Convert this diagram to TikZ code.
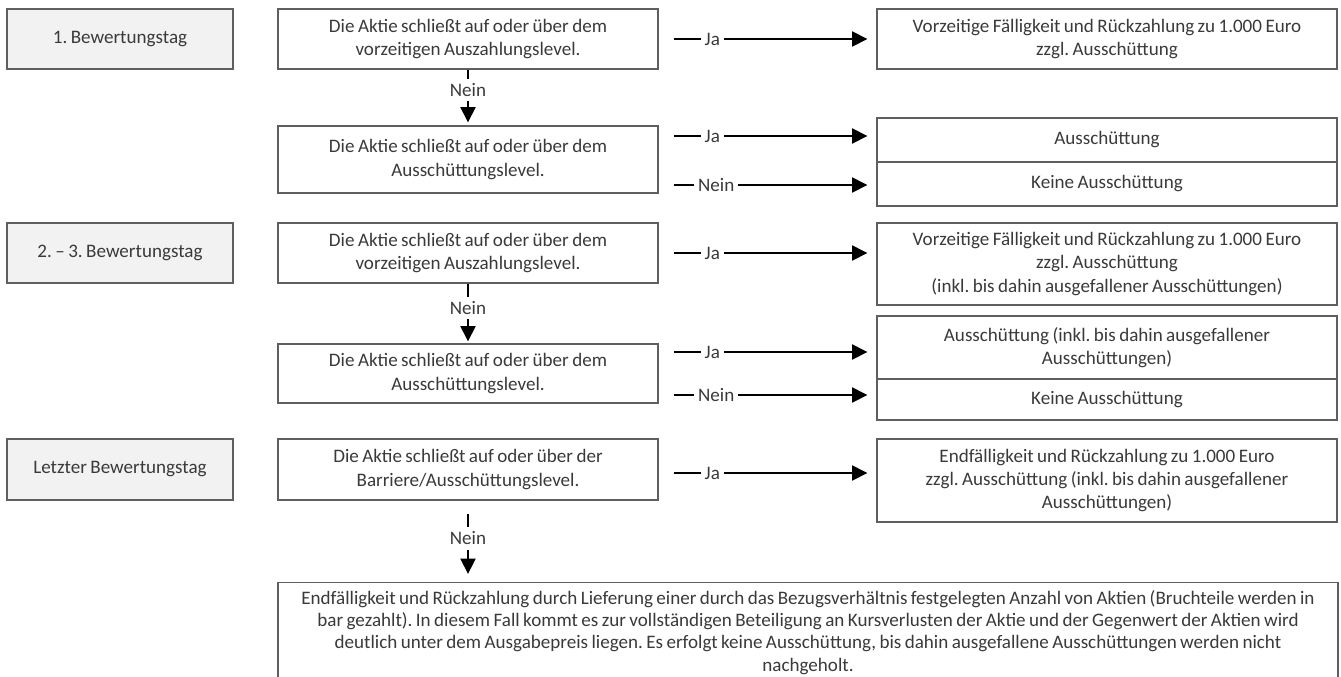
\documentclass[tikz,border=0pt]{standalone}
\usepackage{fontspec}
\setmainfont{Carlito}[WordSpace=0.8]
\frenchspacing
\usetikzlibrary{arrows.meta,calc}
\definecolor{boxc}{HTML}{5F5F5F}
\definecolor{txtc}{HTML}{3A3A3A}
\definecolor{dayfill}{HTML}{F2F2F2}
\tikzset{
  box/.style={draw=boxc, line width=0.8pt, text=txtc, align=center, inner sep=0pt,
    font=\fontsize{14.3}{17.3}\selectfont},
  day/.style={box, fill=dayfill, minimum width=169.5pt, minimum height=45pt},
  dec/.style={box, fill=white, minimum width=285pt},
  res/.style={box, fill=white, minimum width=345pt},
  arr/.style={line width=2.2pt, -{Triangle[length=11.5pt,width=11pt]}},
  lab/.style={fill=white, text=txtc, font=\fontsize{14.3}{16}\selectfont, inner xsep=3pt, inner ysep=3.5pt}
}
\begin{document}
\begin{tikzpicture}[x=0.75pt,y=-0.75pt]
\useasboundingbox (0,0) rectangle (1341,676);
\clip (0,0) rectangle (1341,676);
% day boxes
\node[day] (L1) at (120,39) {1. Bewertungstag};
\node[day] (L2) at (120,253) {2. – 3. Bewertungstag};
\node[day, minimum height=45.75pt] (L3) at (120,469.5) {Letzter Bewertungstag};
% decision boxes
\node[dec, minimum height=45pt] (D1) at (468,39) {Die Aktie schließt auf oder über dem\\vorzeitigen Auszahlungslevel.};
\node[dec, minimum height=50.25pt] (D2) at (468,159.5) {Die Aktie schließt auf oder über dem\\Ausschüttungslevel.};
\node[dec, minimum height=45pt] (D3) at (468,253) {Die Aktie schließt auf oder über dem\\vorzeitigen Auszahlungslevel.};
\node[dec, minimum height=44.25pt] (D4) at (468,373.5) {Die Aktie schließt auf oder über dem\\Ausschüttungslevel.};
\node[dec, minimum height=45.75pt] (D5) at (468,469.5) {Die Aktie schließt auf oder über der\\Barriere/Ausschüttungslevel.};
% result boxes
\node[res, minimum height=45pt] (R1) at (1107,39) {Vorzeitige Fälligkeit und Rückzahlung zu 1.000 Euro\\zzgl. Ausschüttung};
\node[res, minimum height=33pt] (R2a) at (1107,140) {Ausschüttung};
\node[res, minimum height=33pt] (R2b) at (1107,184) {Keine Ausschüttung};
\node[res, minimum height=61.5pt] (R3) at (1107,264) {Vorzeitige Fälligkeit und Rückzahlung zu 1.000 Euro\\zzgl. Ausschüttung\\(inkl. bis dahin ausgefallener Ausschüttungen)};
\node[res, minimum height=47.25pt] (R4a) at (1107,347.5) {Ausschüttung (inkl. bis dahin ausgefallener\\Ausschüttungen)};
\node[res, minimum height=30.75pt] (R4b) at (1107,399.5) {Keine Ausschüttung};
\node[res, minimum height=62.25pt] (R5) at (1107,480.5) {Endfälligkeit und Rückzahlung zu 1.000 Euro\\zzgl. Ausschüttung (inkl. bis dahin ausgefallener\\Ausschüttungen)};
% bottom box
\node[box, fill=white, minimum width=795pt, minimum height=75pt, anchor=north,
      font=\fontsize{14.3}{16.6}\selectfont] (B) at (808,582)
 {Endfälligkeit und Rückzahlung durch Lieferung einer durch das Bezugsverhältnis festgelegten Anzahl von Aktien (Bruchteile werden in\\
  bar gezahlt). In diesem Fall kommt es zur vollständigen Beteiligung an Kursverlusten der Aktie und der Gegenwert der Aktien wird\\
  deutlich unter dem Ausgabepreis liegen. Es erfolgt keine Ausschüttung, bis dahin ausgefallene Ausschüttungen werden nicht\\
  nachgeholt.};
% horizontal connectors
\draw[arr] ($(D1.east)+(15,0)$) -- node[lab,pos=0.2]{Ja} ($(D1.east -| R1.west)+(-9,0)$);
\draw[arr] ($(D2.east |- R2a.west)+(15,-4)$) -- node[lab,pos=0.2]{Ja} ($(R2a.west)+(-9,-4)$);
\draw[arr] ($(D2.east |- R2b.west)+(15,1)$) -- node[lab,pos=0.22]{Nein} ($(R2b.west)+(-9,1)$);
\draw[arr] ($(D3.east)+(15,0)$) -- node[lab,pos=0.2]{Ja} ($(D3.east -| R3.west)+(-9,0)$);
\draw[arr] ($(D4.east |- R4a.west)+(15,4.5)$) -- node[lab,pos=0.2]{Ja} ($(R4a.west)+(-9,4.5)$);
\draw[arr] ($(D4.east |- R4b.west)+(15,-4.5)$) -- node[lab,pos=0.22]{Nein} ($(R4b.west)+(-9,-4.5)$);
\draw[arr] ($(D5.east)+(15,3.5)$) -- node[lab,pos=0.2]{Ja} ($(D5.east -| R5.west)+(-9,3.5)$);
% vertical connectors
\draw[arr] (D1.south) -- node[lab,pos=0.39]{Nein} ($(D2.north)+(0,-3)$);
\draw[arr] (D3.south) -- node[lab,pos=0.42]{Nein} ($(D4.north)+(0,-2)$);
\draw[arr] ($(D5.south)+(0,13)$) -- node[lab,pos=0.41]{Nein} ($(D5.south |- B.north)+(0,-8)$);
\end{tikzpicture}
\end{document}
